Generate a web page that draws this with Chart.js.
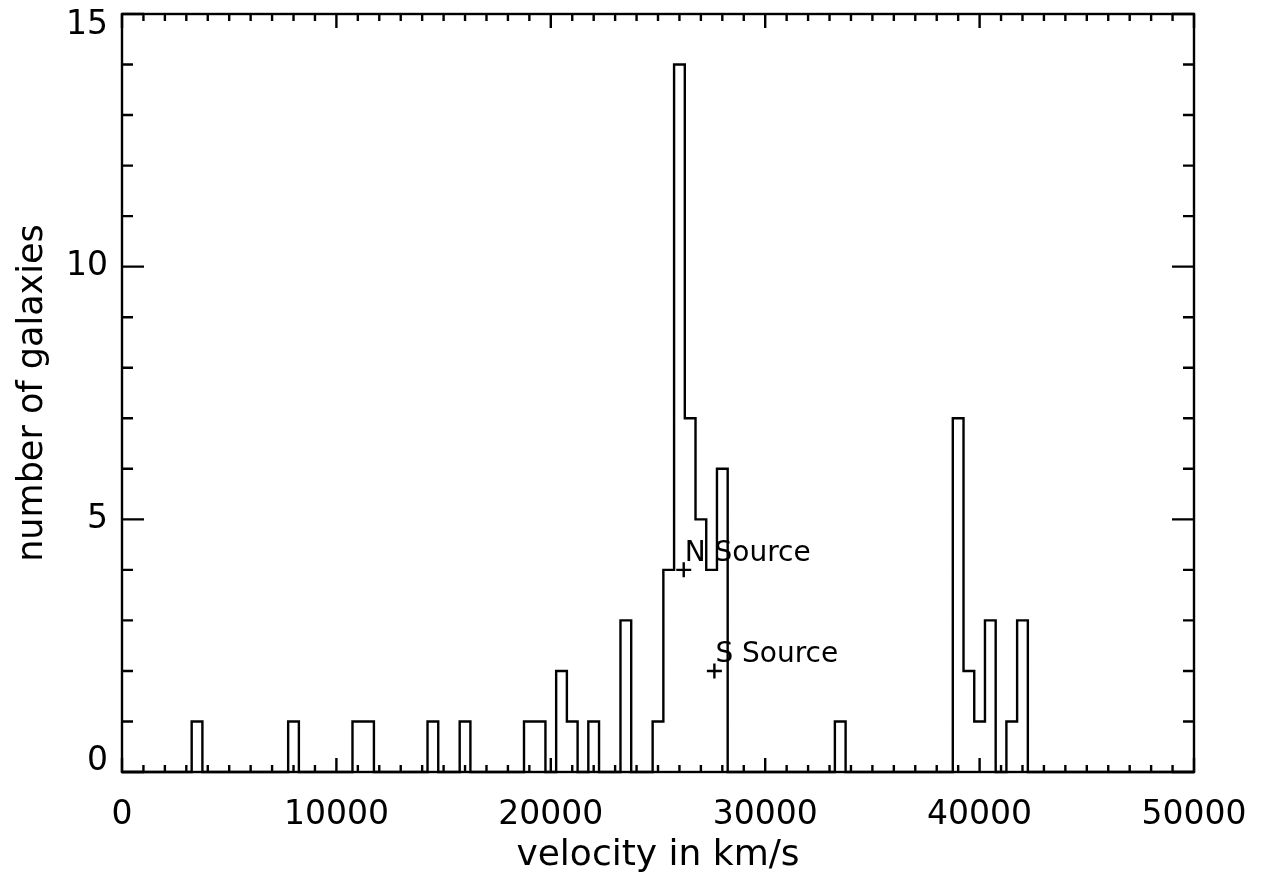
<!DOCTYPE html>
<html>
<head>
<meta charset="utf-8">
<script src="https://cdn.jsdelivr.net/npm/chart.js@4.4.1/dist/chart.umd.min.js"></script>
<style>
  body { margin: 0; background: #fff; }
  canvas { display: block; }
</style>
</head>
<body>
<canvas id="chart" width="1266" height="884"></canvas>
<script>
// galaxy velocities, 500 km/s bins keyed by bin centre (empty bins left out)
const binCentres = [3500, 8000, 11000, 11500, 14500, 16000, 19000, 19500, 20500, 21000,
                    22000, 23500, 25000, 25500, 26000, 26500, 27000, 27500, 28000, 33500,
                    39000, 39500, 40000, 40500, 41500, 42000];
const binCounts  = [1, 1, 1, 1, 1, 1, 1, 1, 2, 1,
                    1, 3, 1, 4, 14, 7, 5, 4, 6, 1,
                    7, 2, 1, 3, 1, 3];
const binWidth = 500;
const velMin = 0, velMax = 50000;

// radio sources marked on the histogram
const sourceNames = ['N Source', 'S Source'];
const sourceVel   = [26200, 27630];
const sourceY     = [4, 2];

const xTicks = [0, 10000, 20000, 30000, 40000, 50000];
const yTicks = [0, 5, 10, 15];

const FONT = "'DejaVu Sans', 'Liberation Sans', sans-serif";
const LW = 2.4;

// full run of bins so the step line drops back to zero between groups
const hist = [];
for (let c = velMin; c <= velMax; c += binWidth) {
  const i = binCentres.indexOf(c);
  hist.push({ x: c, y: i >= 0 ? binCounts[i] : 0 });
}
const sources = sourceVel.map((v, i) => ({ x: v, y: sourceY[i] }));

// box, inward ticks on all four sides, y labels and source names
const idlFrame = {
  id: 'idlFrame',
  afterDraw(chart) {
    const c = chart.ctx, a = chart.chartArea;
    const xs = chart.scales.x, ys = chart.scales.y;
    c.save();
    c.strokeStyle = '#000';
    c.lineWidth = LW;
    c.strokeRect(a.left, a.top, a.right - a.left, a.bottom - a.top);

    c.beginPath();
    for (let v = velMin; v <= velMax; v += 1000) {
      const px = xs.getPixelForValue(v);
      const len = v % 10000 === 0 ? 14 : 7;
      c.moveTo(px, a.bottom); c.lineTo(px, a.bottom - len);
      c.moveTo(px, a.top);    c.lineTo(px, a.top + len);
    }
    for (let v = ys.min; v <= ys.max; v += 1) {
      const py = ys.getPixelForValue(v);
      const len = v % 5 === 0 ? 22 : 11;
      c.moveTo(a.left, py);  c.lineTo(a.left + len, py);
      c.moveTo(a.right, py); c.lineTo(a.right - len, py);
    }
    c.stroke();

    c.fillStyle = '#000';
    c.font = '33px ' + FONT;
    c.textAlign = 'right';
    c.textBaseline = 'middle';
    yTicks.forEach(v => {
      let py = ys.getPixelForValue(v);
      if (v === ys.min) py -= 11;
      if (v === ys.max) py += 11;
      c.fillText(String(v), a.left - 14, py);
    });

    c.font = '28px ' + FONT;
    c.textAlign = 'left';
    c.textBaseline = 'alphabetic';
    sourceNames.forEach((name, i) => {
      const px = xs.getPixelForValue(sourceVel[i]);
      const py = ys.getPixelForValue(sourceY[i]);
      c.fillText(name, px + 1, py - 9);
    });
    c.restore();
  }
};

const ctx = document.getElementById('chart').getContext('2d');
const chart = new Chart(ctx, {
  type: 'line',
  data: {
    datasets: [
      {
        label: 'galaxies',
        data: hist,
        stepped: 'middle',
        borderColor: '#000',
        borderWidth: LW,
        pointRadius: 0,
        fill: false,
        clip: false
      },
      {
        label: 'sources',
        data: sources,
        showLine: false,
        pointStyle: 'cross',
        pointRadius: 7.5,
        pointBorderWidth: LW,
        pointBorderColor: '#000',
        borderColor: '#000'
      }
    ]
  },
  options: {
    responsive: false,
    animation: false,
    events: [],
    layout: { padding: { top: 14, right: 72, left: 0, bottom: 0 } },
    plugins: { legend: { display: false }, tooltip: { enabled: false } },
    scales: {
      x: {
        type: 'linear',
        min: velMin,
        max: velMax,
        grid: { display: false, drawTicks: false },
        border: { display: false },
        afterFit: s => { s.height = 112; s.paddingLeft = 0; s.paddingRight = 0; },
        afterBuildTicks: s => { s.ticks = xTicks.map(v => ({ value: v })); },
        ticks: {
          color: '#000',
          font: { family: FONT, size: 33 },
          padding: 24,
          maxRotation: 0,
          autoSkip: false,
          callback: v => String(v)
        },
        title: {
          display: true,
          text: 'velocity in km/s',
          color: '#000',
          font: { family: FONT, size: 36 },
          padding: { top: 0, bottom: 7 }
        }
      },
      y: {
        type: 'linear',
        min: 0,
        max: 15,
        grid: { display: false, drawTicks: false },
        border: { display: false },
        afterFit: s => { s.width = 122; },
        ticks: { display: false },
        title: {
          display: true,
          text: 'number of galaxies',
          color: '#000',
          font: { family: FONT, size: 35 },
          padding: { top: 12, bottom: 0 }
        }
      }
    }
  },
  plugins: [idlFrame]
});
</script>
</body>
</html>
